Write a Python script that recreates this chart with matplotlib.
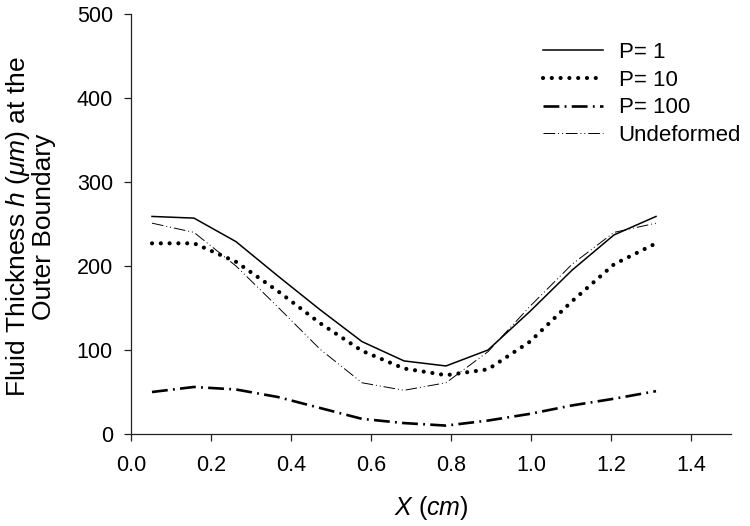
import matplotlib
matplotlib.use("Agg")
import matplotlib.pyplot as plt

plt.rcParams['font.family'] = ['Liberation Sans', 'DejaVu Sans']
plt.rcParams['mathtext.fontset'] = 'custom'
plt.rcParams['mathtext.rm'] = 'Liberation Sans'
plt.rcParams['mathtext.it'] = 'Liberation Sans:italic'

x_cm = [0.0525, 0.1575, 0.2625, 0.3675, 0.4725, 0.5775, 0.6825,
        0.7875, 0.8925, 0.9975, 1.1025, 1.2075, 1.3125]
p1 = [259, 257, 229, 188, 148, 110, 87, 81, 100, 146, 195, 237, 259]
p10 = [227, 227, 205, 170, 132, 99, 78, 70, 77, 110, 158, 202, 227]
p100 = [50, 56, 53, 44, 31, 18, 13, 10, 16, 24, 34, 42, 51]
undeformed = [251, 240, 200, 151, 101, 61, 52, 61, 98, 152, 202, 240, 251]

labels = ['P= 1', 'P= 10', 'P= 100', 'Undeformed']
x_ticks = [0.0, 0.2, 0.4, 0.6, 0.8, 1.0, 1.2, 1.4]
y_ticks = [0, 100, 200, 300, 400, 500]

fig = plt.figure(figsize=(7.5, 5.26), dpi=100)
ax = fig.add_axes([131/750, 1-434/526, 600/750, 420/526])

ax.plot(x_cm, p1, color='black', lw=1.1, linestyle='-', label=labels[0])
ax.plot(x_cm, p10, color='black', lw=3.0, linestyle=(0, (0.01, 2.1)),
        dash_capstyle='round', label=labels[1])
ax.plot(x_cm, p100, color='black', lw=1.9, linestyle=(0, (6, 2, 0.7, 2)),
        label=labels[2])
ax.plot(x_cm, undeformed, color='black', lw=0.7,
        linestyle=(0, (12, 3, 1, 3, 1, 3)), label=labels[3])

ax.set_xlim(0, 1.5)
ax.set_ylim(0, 500)
ax.set_xticks(x_ticks)
ax.set_xticklabels([f'{t:.1f}' for t in x_ticks])
ax.set_yticks(y_ticks)
for s in ['top', 'right']:
    ax.spines[s].set_visible(False)
for s in ['left', 'bottom']:
    ax.spines[s].set_linewidth(0.9)
    ax.spines[s].set_color('#222222')
ax.tick_params(axis='both', direction='out', length=5, width=0.9,
               labelsize=15.5, color='#222222')
ax.tick_params(axis='x', pad=10)
ax.tick_params(axis='y', pad=8)

ax.set_xlabel('$\\mathit{X}$ $\\mathit{(cm)}$', fontsize=18)
ax.xaxis.set_label_coords(0.5, -0.143)
ax.set_ylabel('Fluid Thickness $h$ ($\\mu m$) at the\nOuter Boundary',
              fontsize=19, linespacing=1.0)
ax.yaxis.set_label_coords(-0.125, 0.493)

ax.legend(loc='upper left', bbox_to_anchor=(543/750, 1-42/526),
          bbox_transform=fig.transFigure, frameon=False, fontsize=16,
          handlelength=2.7, handletextpad=0.7, borderpad=0, borderaxespad=0,
          labelspacing=0.3)

fig.savefig('out.png', dpi=100)
